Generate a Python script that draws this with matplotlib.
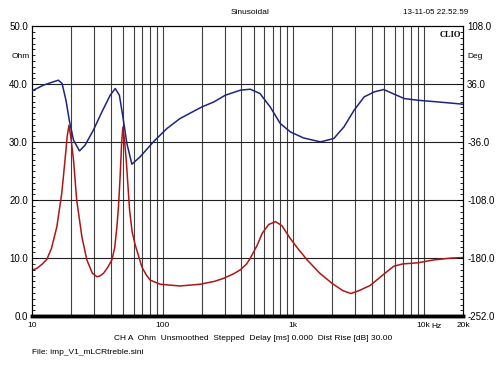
import numpy as np
import matplotlib
matplotlib.use('Agg')
import matplotlib.pyplot as plt
from matplotlib.ticker import FixedLocator, MultipleLocator

plt.rcParams['font.family'] = ['Liberation Sans', 'DejaVu Sans']
plt.rcParams['font.size'] = 7

# impedance magnitude (Ohm)
imp_freq = [10, 11, 12, 13, 14.1, 15.5, 16.9, 17.9, 18.6, 19.2, 19.8, 20.8, 22.0,
            24.1, 26.3, 29.0, 31.4, 33.0, 35.3, 38.0, 40.9, 43.0, 44.7, 46.0, 47.3,
            48.6, 49.7, 51.0, 52.7, 55.9, 58.5, 61.7, 69.4, 75, 80.5, 96, 136, 194,
            250, 292, 350, 395, 440, 470, 530, 580, 650, 733, 820, 950, 1100, 1280,
            1600, 2000, 2400, 2770, 3200, 3900, 4800, 5900, 6900, 9000, 12000,
            16000, 20000]
imp_ohm = [7.9, 8.3, 9.0, 9.8, 11.7, 15.4, 21.2, 26.9, 31.0, 32.9, 31.0, 26.9, 20.0,
           13.7, 9.7, 7.4, 6.8, 6.9, 7.4, 8.4, 9.7, 11.8, 15.4, 19.0, 24.0,
           30.0, 32.6, 30.5, 26.9, 18.3, 14.5, 12.3, 8.5, 7.1, 6.2, 5.5, 5.2, 5.5,
           6.0, 6.5, 7.3, 8.0, 9.0, 10.0, 12.2, 14.3, 15.8, 16.3, 15.6, 13.4, 11.5, 9.7,
           7.4, 5.6, 4.4, 3.9, 4.4, 5.3, 7.0, 8.6, 9.0, 9.2, 9.7,
           10.0, 10.1]

# phase (deg)
ph_freq = [10, 12.2, 15.9, 17.0, 18.2, 19.3, 20.8, 23.1, 25.5, 29.5, 34.3, 39.7,
           43.4, 46.7, 49.7, 53.3, 58.2, 67.3, 85, 108, 136, 200, 247, 302, 394,
           470, 557, 667, 797, 952, 1200, 1620, 2050, 2450, 2930, 3500, 4180,
           4940, 5950, 7100, 9000, 12900, 20000]
ph_deg = [27.7, 34.8, 41.0, 36.9, 16.1, -8.7, -33.5, -46.8, -39.7, -21.1, 1.6, 22.3,
          30.7, 22.3, -4.6, -37.6, -63.3, -54.2, -35.6, -19.0, -6.6, 7.8, 14.0, 22.3, 28.6,
          29.8, 24.5, 7.8, -12.8, -23.2, -30.7, -35.6, -31.4, -17.0, 3.7, 20.3, 26.5,
          29.4, 23.6, 18.2, 16.1, 14.0, 11.2]

grid_freqs = [20, 30, 40, 50, 60, 70, 80, 90, 100, 200, 300, 400, 500, 600, 700,
              800, 900, 1000, 2000, 3000, 4000, 5000, 6000, 7000, 8000, 9000, 10000]
x_ticks = [10, 100, 1000, 10000, 20000]
x_labels = ['10', '100', '1k', '10k', '20k']

fig = plt.figure(figsize=(5, 3.75), dpi=100)
ax = fig.add_axes([0.064, 0.157, 0.862, 0.773])
ax2 = ax.twinx()

ax.set_xscale('log')
ax.set_xlim(10, 20000)
ax.set_ylim(0, 50)
ax2.set_ylim(-252, 108)

for f in grid_freqs:
    ax.axvline(f, color='#404040', lw=0.8, zorder=1)
for v in [10, 20, 30, 40]:
    ax.axhline(v, color='#202020', lw=0.8, zorder=1)

ax.plot(imp_freq, imp_ohm, color='#b01515', lw=1.1, zorder=3)
ax2.plot(ph_freq, ph_deg, color='#1c2580', lw=1.1, zorder=3)

ax.xaxis.set_major_locator(FixedLocator(x_ticks))
ax.xaxis.set_minor_locator(FixedLocator([]))
ax.set_xticklabels(x_labels)
ax.tick_params(axis='x', length=0, pad=4, labelsize=6)

ax.yaxis.set_major_locator(MultipleLocator(10))
ax.yaxis.set_minor_locator(MultipleLocator(1))
ax.yaxis.set_major_formatter(plt.FormatStrFormatter('%.1f'))
ax.tick_params(axis='y', which='major', direction='in', length=4, width=0.6, pad=3)
ax.tick_params(axis='y', which='minor', direction='in', length=2, width=0.6)

ax2.yaxis.set_major_locator(FixedLocator([-252, -180, -108, -36, 36, 108]))
ax2.yaxis.set_minor_locator(MultipleLocator(7.2))
ax2.yaxis.set_major_formatter(plt.FormatStrFormatter('%.1f'))
ax2.tick_params(axis='y', which='major', direction='in', length=4, width=0.6, pad=3)
ax2.tick_params(axis='y', which='minor', direction='in', length=2, width=0.6)

for a in (ax, ax2):
    for s in ['left', 'right', 'top']:
        a.spines[s].set_linewidth(0.8)
    a.spines['bottom'].set_linewidth(2.5)

fig.text(0.042, 1 - 57 / 375, 'Ohm', ha='center', va='center', fontsize=6)
fig.text(0.951, 1 - 57 / 375, 'Deg', ha='center', va='center', fontsize=6)
ax.text(0.995, 0.985, 'CLIO', transform=ax.transAxes, ha='right', va='top',
        fontsize=6, fontweight='bold', family='Liberation Serif')
fig.text(437 / 500, 1 - 327 / 375, 'Hz', ha='center', va='center', fontsize=6)

fig.text(0.5, 1 - 13 / 375, 'Sinusoidal', ha='center', va='center', fontsize=6)
fig.text(0.936, 1 - 13 / 375, '13-11-05 22.52.59', ha='right', va='center', fontsize=5.8)
fig.text(0.228, 1 - 339 / 375,
         'CH A  Ohm  Unsmoothed  Stepped  Delay [ms] 0.000  Dist Rise [dB] 30.00',
         ha='left', va='center', fontsize=6)
fig.text(0.064, 1 - 352 / 375, 'File: imp_V1_mLCRtreble.sini', ha='left', va='center',
         fontsize=6)

fig.savefig('out.png', dpi=100, facecolor='white')
